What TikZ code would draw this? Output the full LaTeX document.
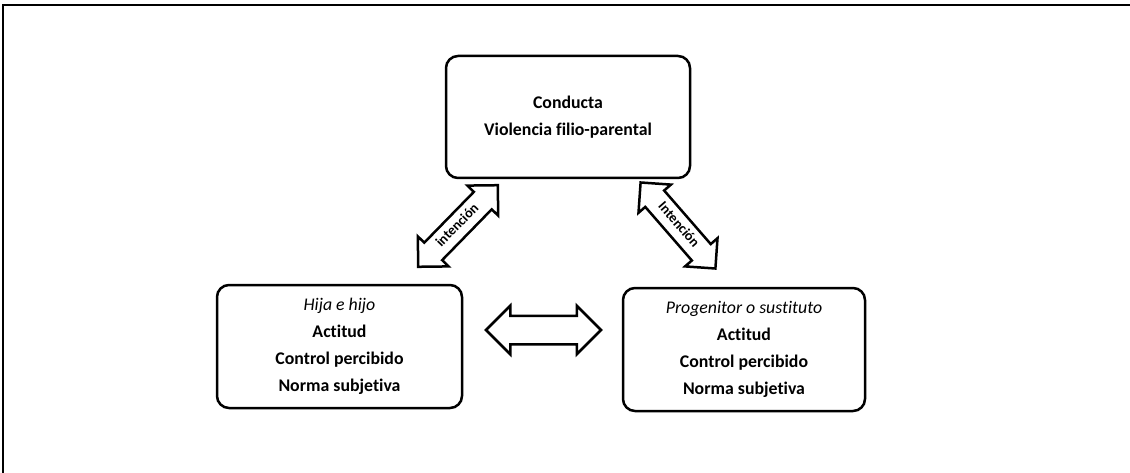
\documentclass[tikz,border=0pt]{standalone}
\usepackage{fontspec}
\setmainfont{Carlito}[Ligatures=NoCommon]
\usetikzlibrary{shapes.arrows}
\begin{document}
\begin{tikzpicture}[x=1pt,y=-1pt,
  box/.style={draw,line width=2.5pt,rounded corners=12pt,inner sep=0pt,align=center,
    font=\fontsize{17.8}{27}\selectfont\bfseries},
  barrow/.style={draw,line width=2.5pt,shape=double arrow,double arrow head extend=9pt,
    double arrow tip angle=90,inner xsep=0pt,font=\fontsize{14}{14}\selectfont\bfseries,
    text height=9pt,text depth=2.5pt,inner ysep=5.5pt,minimum height=114pt}
]
\useasboundingbox (0,0) rectangle (1130,473);
\draw[line width=1.5pt] (3,473) -- (3,5) -- (1130,5);
\node[box,minimum width=244pt,minimum height=122pt] (top) at (568,117)
  {Conducta\\Violencia filio-parental};
\node[box,minimum width=245pt,minimum height=123pt] (child) at (339.5,346.5)
  {{\mdseries\itshape Hija e hijo}\\Actitud\\Control percibido\\Norma subjetiva};
\node[box,minimum width=242pt,minimum height=123pt] (parent) at (744,349.5)
  {{\mdseries\itshape Progenitor o sustituto}\\Actitud\\Control percibido\\Norma subjetiva};
\node[barrow,rotate=45.7] (a1) at (458,226) {intención};
\node[barrow,rotate=-49] (a2) at (678,225.5) {Intención};
\node[barrow,text height=0pt,text depth=0pt,inner ysep=13pt,double arrow head extend=10pt,
  minimum height=115pt] (a3) at (543.5,330) {};
\end{tikzpicture}
\end{document}
